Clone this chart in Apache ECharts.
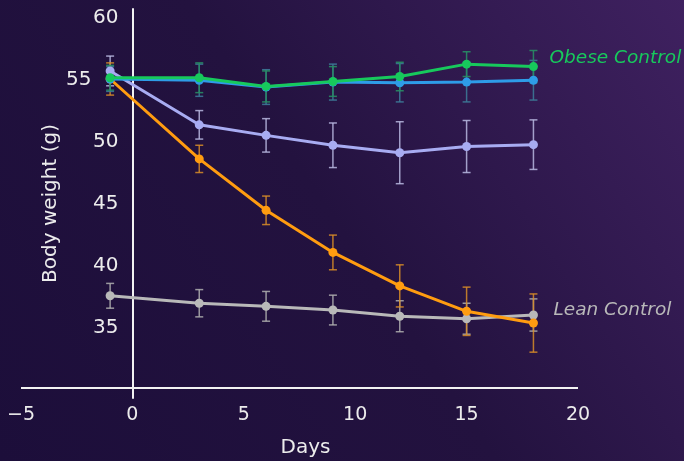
<!DOCTYPE html>
<html>
<head>
<meta charset="utf-8">
<script src="https://cdn.jsdelivr.net/npm/echarts@6/dist/echarts.min.js"></script>
<style>
  html, body { margin: 0; padding: 0; }
  #chart { width: 684px; height: 461px; }
</style>
</head>
<body>
<div id="chart"></div>
<script>
// Measurement days
const days = [-1, 3, 6, 9, 12, 15, 18];

// Mean body weight (g) per group
const obeseControl = [55.2, 55.2, 54.5, 54.9, 55.3, 56.3, 56.1];
const blueGroup    = [55.1, 55.0, 54.45, 54.85, 54.8, 54.85, 55.0];
const violetGroup  = [55.75, 51.4, 50.55, 49.75, 49.15, 49.65, 49.8];
const orangeGroup  = [55.1, 48.65, 44.5, 41.1, 38.4, 36.35, 35.4];
const leanControl  = [37.6, 37.0, 36.75, 36.45, 35.95, 35.75, 36.05];

// Error (± g) per group
const obeseControlErr = [1.0, 1.2, 1.25, 1.2, 1.15, 1.0, 1.3];
const blueGroupErr    = [1.0, 1.3, 1.4, 1.45, 1.55, 1.6, 1.6];
const violetGroupErr  = [1.2, 1.15, 1.35, 1.8, 2.5, 2.1, 2.0];
const orangeGroupErr  = [1.3, 1.1, 1.15, 1.4, 1.7, 1.95, 2.35];
const leanControlErr  = [1.0, 1.1, 1.2, 1.2, 1.25, 1.25, 1.3];

// Axis ticks
const xTicks = [-5, 0, 5, 10, 15, 20];
const yTicks = [35, 40, 45, 50, 55, 60];
// Tick label pushed aside so it clears the day -1 markers
const yTickNudged = 55;
const X_BASELINE = 30.2;

// Plot area, in pixels
const GRID = { left: 21, right: 106, top: 9, bottom: 63 };
const PLOT_W = 684 - GRID.left - GRID.right;
// The weight axis sits on day 0
const Y_AXIS_SHIFT = PLOT_W * (0 - xTicks[0]) / (xTicks[xTicks.length - 1] - xTicks[0]);

const groups = [
  { name: 'Lean Control',  values: leanControl,  err: leanControlErr,  color: '#b9b9b9', bar: 'rgba(175,175,175,0.85)', label: true, labelOffset: [0, -5], labelDist: 20 },
  { name: 'Violet group',  values: violetGroup,  err: violetGroupErr,  color: '#a8acf2', bar: 'rgba(185,185,225,0.85)' },
  { name: 'Orange group',  values: orangeGroup,  err: orangeGroupErr,  color: '#ff9c10', bar: 'rgba(215,140,40,0.85)' },
  { name: 'Blue group',    values: blueGroup,    err: blueGroupErr,    color: '#2e9ce8', bar: 'rgba(60,120,150,0.9)' },
  { name: 'Obese Control', values: obeseControl, err: obeseControlErr, color: '#17c95c', bar: 'rgba(40,140,100,0.9)', label: true, labelOffset: [0, -8], labelDist: 16 }
];

const series = [];
groups.forEach((g) => {
  series.push({
    type: 'custom',
    name: g.name + ' error',
    z: 2,
    silent: true,
    data: days.map((d, k) => [d, g.values[k] - g.err[k], g.values[k] + g.err[k]]),
    renderItem: (params, api) => {
      const x = api.value(0);
      const top = api.coord([x, api.value(2)]);
      const bot = api.coord([x, api.value(1)]);
      const w = 4;
      const style = { stroke: g.bar, lineWidth: 1.5 };
      return {
        type: 'group',
        children: [
          { type: 'line', shape: { x1: top[0], y1: top[1], x2: bot[0], y2: bot[1] }, style },
          { type: 'line', shape: { x1: top[0] - w, y1: top[1], x2: top[0] + w, y2: top[1] }, style },
          { type: 'line', shape: { x1: bot[0] - w, y1: bot[1], x2: bot[0] + w, y2: bot[1] }, style }
        ]
      };
    }
  });
});
groups.forEach((g, i) => {
  const s = {
    type: 'line',
    name: g.name,
    z: 3 + i,
    data: days.map((d, k) => [d, g.values[k]]),
    symbol: 'circle',
    symbolSize: 9,
    lineStyle: { color: g.color, width: 3 },
    itemStyle: { color: g.color },
    emphasis: { disabled: true }
  };
  if (g.label) {
    s.endLabel = {
      show: true,
      formatter: g.name,
      color: g.color,
      fontFamily: 'DejaVu Sans',
      fontStyle: 'italic',
      fontSize: 18.5,
      distance: g.labelDist,
      offset: g.labelOffset
    };
  }
  series.push(s);
});

// Horizontal day axis line drawn at the baseline weight
series.push({
  type: 'line',
  data: [],
  silent: true,
  markLine: {
    silent: true,
    symbol: ['none', 'none'],
    label: { show: false },
    lineStyle: { color: '#f2f2f2', width: 2, type: 'solid' },
    data: [[{ coord: [xTicks[0], X_BASELINE] }, { coord: [xTicks[xTicks.length - 1], X_BASELINE] }]]
  }
});

const chart = echarts.init(document.getElementById('chart'));
chart.setOption({
  animation: false,
  backgroundColor: {
    type: 'linear', x: 0, y: 1, x2: 1, y2: 0,
    colorStops: [
      { offset: 0, color: '#1c0e3a' },
      { offset: 0.5, color: '#23123f' },
      { offset: 1, color: '#3f2160' }
    ]
  },
  grid: Object.assign({ containLabel: false, outerBoundsMode: 'none' }, GRID),
  xAxis: {
    type: 'value',
    min: xTicks[0],
    max: xTicks[xTicks.length - 1],
    interval: 5,
    axisLine: { show: false },
    axisTick: { show: false },
    splitLine: { show: false },
    axisLabel: {
      color: '#ececec',
      fontFamily: 'DejaVu Sans',
      fontSize: 19,
      margin: 8,
      formatter: v => String(v).replace('-', '\u2212')
    },
    name: 'Days',
    nameLocation: 'middle',
    nameGap: 40,
    nameTextStyle: { color: '#ececec', fontFamily: 'DejaVu Sans', fontSize: 20, padding: [0, 0, 0, 12] }
  },
  yAxis: {
    type: 'value',
    min: 29.35,
    max: 60.75,
    offset: -Y_AXIS_SHIFT,
    axisLine: { show: true, onZero: false, lineStyle: { color: '#f2f2f2', width: 2 } },
    axisTick: { show: false },
    splitLine: { show: false },
    axisLabel: {
      customValues: yTicks,
      color: '#ececec',
      fontFamily: 'DejaVu Sans',
      fontSize: 20,
      margin: 14,
      formatter: v => (v === yTickNudged ? '{nudged|' + v + '}' : String(v)),
      rich: {
        nudged: { color: '#ececec', fontFamily: 'DejaVu Sans', fontSize: 20, padding: [0, 27, 0, 0] }
      }
    },
    name: 'Body weight (g)',
    nameLocation: 'middle',
    nameGap: 72,
    nameMoveOverlap: false,
    nameRotate: 90,
    nameTextStyle: { color: '#ececec', fontFamily: 'DejaVu Sans', fontSize: 20 }
  },
  series: series
});
</script>
</body>
</html>
